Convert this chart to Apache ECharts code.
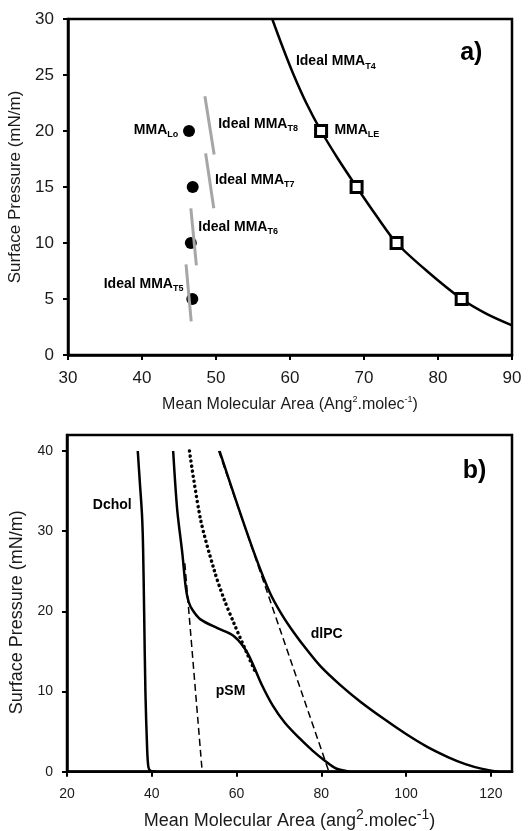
<!DOCTYPE html>
<html>
<head>
<meta charset="utf-8">
<script src="https://cdn.jsdelivr.net/npm/echarts@6/dist/echarts.min.js"></script>
<style>
  html, body { margin: 0; padding: 0; background: #fff; }
  #chart { width: 532px; height: 831px; }
</style>
</head>
<body>
<div id="chart"></div>
<script>
// ---------- Panel a): mean molecular area vs surface pressure ----------
const idealT4Curve = [[57.6, 30], [59.0, 27.5], [60.5, 25], [62.2, 22.5], [64.2, 20], [66.5, 17.5],
                      [69.0, 15], [71.6, 12.5], [74.4, 10], [78.5, 7.5], [83.2, 5], [86.5, 3.7], [90, 2.65]];
const mmaLE = [[64.2, 20], [69.0, 15], [74.4, 10], [83.2, 5]];
const mmaLo = [[46.35, 20], [46.85, 15], [46.6, 10], [46.8, 5]];
const idealT5 = [[45.95, 8.1], [46.65, 3.0]];
const idealT6 = [[46.6, 13.1], [47.35, 8.0]];
const idealT7 = [[48.6, 18.0], [49.7, 13.1]];
const idealT8 = [[48.5, 23.1], [49.75, 17.9]];
const xTicksA = [30, 40, 50, 60, 70, 80, 90];
const yTicksA = [0, 5, 10, 15, 20, 25, 30];

// ---------- Panel b): compression isotherms ----------
const dchol = [[36.7, 40], [37.2, 36], [37.7, 32], [37.95, 28], [38.2, 20], [38.5, 10], [38.9, 3],
               [39.2, 0.6], [39.7, 0.1], [41, 0]];
const pSM = [[45.05, 40], [46.0, 32.7], [47.2, 27.3], [48.0, 23.1], [48.7, 21.2], [49.7, 20.1], [51.5, 19],
             [55.5, 17.9], [59.4, 16.9], [62.6, 14.8], [65.9, 10.9], [68.6, 8.2], [71.4, 6.1],
             [74.6, 4.3], [78.0, 2.6], [81.0, 1.3], [83.5, 0.4], [86.6, 0]];
const pSMdotted = [[48.9, 40], [51.5, 31.5], [54.7, 25.2], [57.0, 21.6], [59.4, 18.5], [62.6, 14.6], [64.3, 12.6]];
const dlPC = [[56.0, 40], [60.4, 33], [64.5, 26.8], [67.9, 22.3], [70.7, 19.6], [73.6, 17.3], [76.6, 15.2],
              [79.9, 13.1], [84.5, 10.8], [89.3, 8.7], [95.0, 6.5], [100.0, 4.7], [105.0, 3.1], [110.0, 1.8],
              [114.0, 0.95], [118.0, 0.35], [121.7, 0]];
const dashLeft = [[47.8, 26], [51.9, 0]];
const dashRight = [[55.8, 40], [81.8, 0]];
const xTicksB = [20, 40, 60, 80, 100, 120];
const yTicksB = [0, 10, 20, 30, 40];

// ---------- Text annotations (anchor in data units) ----------
const notesA = [
  { text: 'Ideal MMA{s|T4}', at: [60.8, 26.2], side: 'right' },
  { text: 'MMA{s|Lo}', at: [44.9, 20.1], side: 'left' },
  { text: 'Ideal MMA{s|T8}', at: [50.3, 20.6], side: 'right' },
  { text: 'MMA{s|LE}', at: [66.0, 20.1], side: 'right' },
  { text: 'Ideal MMA{s|T7}', at: [49.85, 15.6], side: 'right' },
  { text: 'Ideal MMA{s|T6}', at: [47.6, 11.45], side: 'right' },
  { text: 'Ideal MMA{s|T5}', at: [45.6, 6.35], side: 'left' },
  { text: '{p|a)}', at: [83.0, 26.95], side: 'right' }
];
const notesB = [
  { text: 'Dchol', at: [26.1, 33.3], side: 'right' },
  { text: 'pSM', at: [55.1, 10.1], side: 'right' },
  { text: 'dlPC', at: [77.5, 17.1], side: 'right' },
  { text: '{p|b)}', at: [113.4, 37.5], side: 'right' }
];

const FONT = '"Liberation Sans", Arial, Helvetica, sans-serif';
const INK = '#000';
const TICK_INK = '#1a1a1a';

function labelSeries(notes, axisIdx) {
  return {
    type: 'scatter', xAxisIndex: axisIdx, yAxisIndex: axisIdx, symbolSize: 0, z: 10, silent: true,
    itemStyle: { opacity: 1, color: INK },
    data: notes.map(n => ({
      value: n.at,
      label: {
        show: true, position: n.side, distance: 0, formatter: n.text, opacity: 1,
        fontFamily: FONT, fontWeight: 'bold', fontSize: 14, lineHeight: 18, color: INK,
        rich: {
          s: { fontFamily: FONT, fontWeight: 'bold', fontSize: 9, lineHeight: 6, verticalAlign: 'bottom', color: INK },
          p: { fontFamily: FONT, fontWeight: 'bold', fontSize: 25, lineHeight: 28, color: INK }
        }
      }
    }))
  };
}

function valueAxis(gridIndex, ticks, min, max, extra) {
  return Object.assign({
    type: 'value', gridIndex, min, max,
    axisLine: { show: true, onZero: false, lineStyle: { color: INK, width: 2.5 } },
    axisTick: { show: true, inside: false, length: 5, customValues: ticks, lineStyle: { color: INK, width: 2 } },
    axisLabel: { customValues: ticks, fontFamily: FONT, color: TICK_INK },
    splitLine: { show: false },
    nameLocation: 'middle'
  }, extra);
}

function line(data, axisIdx, style, z) {
  return {
    type: 'line', xAxisIndex: axisIdx, yAxisIndex: axisIdx, data, showSymbol: false, symbol: 'none',
    smooth: 0.3, lineStyle: Object.assign({ opacity: 1 }, style), z: z || 2, silent: true
  };
}

const chart = echarts.init(document.getElementById('chart'), null, { renderer: 'canvas' });
chart.setOption({
  animation: false,
  backgroundColor: '#fff',
  grid: [
    { left: 68, right: 20, top: 19, height: 336, show: true, borderColor: INK, borderWidth: 2.5,
      backgroundColor: 'transparent', outerBoundsMode: 'none', containLabel: false },
    { left: 67, right: 20, top: 435, height: 336.7, show: true, borderColor: INK, borderWidth: 2.5,
      backgroundColor: 'transparent', outerBoundsMode: 'none', containLabel: false }
  ],
  xAxis: [
    valueAxis(0, xTicksA, 30, 90, {
      axisLabel: { customValues: xTicksA, fontFamily: FONT, fontSize: 17, color: TICK_INK, margin: 15 },
      name: 'Mean Molecular Area (Ang{sup|2}.molec{sup|-1})', nameGap: 40,
      nameTextStyle: { fontFamily: FONT, fontSize: 16, lineHeight: 20, color: TICK_INK,
        rich: { sup: { fontFamily: FONT, fontSize: 9, lineHeight: 6, verticalAlign: 'top', color: TICK_INK } } }
    }),
    valueAxis(1, xTicksB, 20, 125, {
      axisLabel: { customValues: xTicksB, fontFamily: FONT, fontSize: 14, color: TICK_INK, margin: 15 },
      name: 'Mean Molecular Area (ang{sup|2}.molec{sup|-1})', nameGap: 36,
      nameTextStyle: { fontFamily: FONT, fontSize: 18, lineHeight: 26, color: TICK_INK,
        rich: { sup: { fontFamily: FONT, fontSize: 14, lineHeight: 6, verticalAlign: 'top', color: TICK_INK } } }
    })
  ],
  yAxis: [
    valueAxis(0, yTicksA, 0, 30, {
      axisLabel: { customValues: yTicksA, fontFamily: FONT, fontSize: 17, color: TICK_INK, margin: 14 },
      name: 'Surface Pressure (mN/m)', nameGap: 40,
      nameTextStyle: { fontFamily: FONT, fontSize: 17, color: TICK_INK }
    }),
    valueAxis(1, yTicksB, 0, 42, {
      axisLabel: { customValues: yTicksB, fontFamily: FONT, fontSize: 14, color: TICK_INK, margin: 14 },
      name: 'Surface Pressure (mN/m)', nameGap: 31,
      nameTextStyle: { fontFamily: FONT, fontSize: 18, color: TICK_INK, padding: [0, 18, 0, 0] }
    })
  ],
  series: [
    // panel a)
    line(idealT4Curve, 0, { color: INK, width: 2.5 }, 2),
    {
      type: 'scatter', xAxisIndex: 0, yAxisIndex: 0, data: mmaLo, symbol: 'circle', symbolSize: 12,
      itemStyle: { color: INK, opacity: 1 }, z: 3, silent: true
    },
    line(idealT5, 0, { color: '#a6a6a6', width: 3 }, 4),
    line(idealT6, 0, { color: '#a6a6a6', width: 3 }, 4),
    line(idealT7, 0, { color: '#a6a6a6', width: 3 }, 4),
    line(idealT8, 0, { color: '#a6a6a6', width: 3 }, 4),
    {
      type: 'scatter', xAxisIndex: 0, yAxisIndex: 0, data: mmaLE, symbol: 'rect', symbolSize: 11,
      itemStyle: { color: '#fff', borderColor: INK, borderWidth: 3, opacity: 1 }, z: 5, silent: true
    },
    labelSeries(notesA, 0),
    // panel b)
    line(dchol, 1, { color: INK, width: 2.5 }),
    line(pSM, 1, { color: INK, width: 2.5 }),
    line(dlPC, 1, { color: INK, width: 2.5 }),
    line(pSMdotted, 1, { color: INK, width: 3.5, type: [0.1, 5], cap: 'round' }),
    line(dashLeft, 1, { color: INK, width: 1.5, type: [7, 4] }),
    line(dashRight, 1, { color: INK, width: 1.5, type: [7, 4] }),
    labelSeries(notesB, 1)
  ]
});
</script>
</body>
</html>
